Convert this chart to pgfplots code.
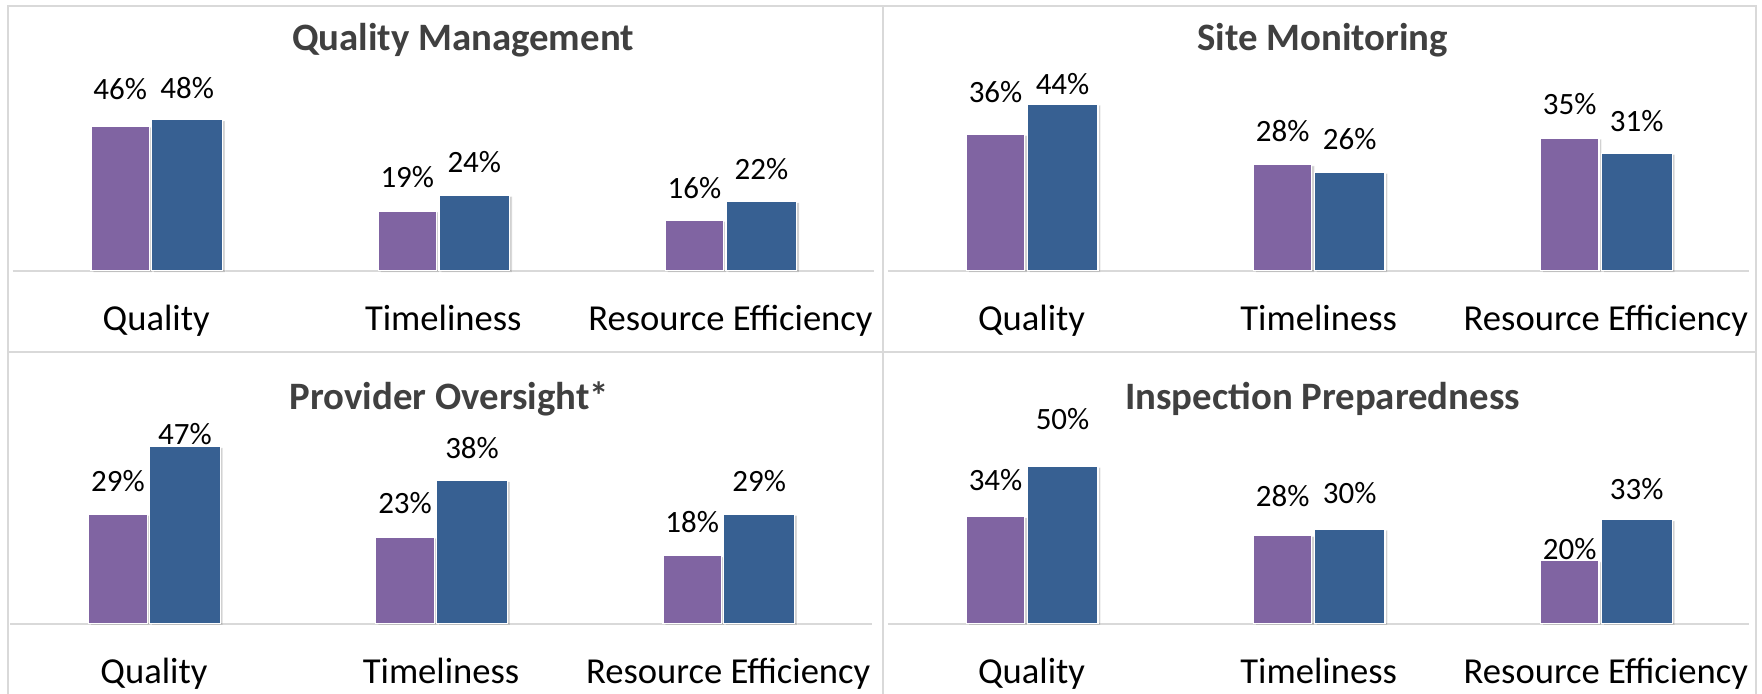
\documentclass[border=0pt]{standalone}
\usepackage{pgfplots}
\pgfplotsset{compat=1.18}
\usepackage{pgfplotstable}
\usetikzlibrary{shadows}
\usepackage{fontspec}
\setmainfont{Carlito}

\definecolor{barpurple}{HTML}{8064A2}
\definecolor{barblue}{HTML}{376092}
\definecolor{titlegrey}{HTML}{404040}
\definecolor{framegrey}{HTML}{D9D9D9}

% p = purple series, b = blue series; pdy/bdy = label offset above bar top (px)
\pgfplotstableread{
x p pdy b bdy
0 46 33 48 28
1 19 30 24 30
2 16 29 22 29
}\qualitymgmt
\pgfplotstableread{
x p pdy b bdy
0 36 38 44 18
1 28 30 26 30
2 35 30 31 29
}\sitemon
\pgfplotstableread{
x p pdy b bdy
0 29 30 47 11
1 23 30 38 29
2 18 30 29 30
}\provider
\pgfplotstableread{
x p pdy b bdy
0 34 33 50 42
1 28 35 30 32
2 20 10 33 27
}\inspection

\pgfplotsset{
  panel/.style={
    x=143.57pt, scale only axis, anchor=south west,
    xmin=-0.5, xmax=2.5, ymin=0, ymax=55,
    axis x line*=bottom, hide y axis,
    x axis line style={-, framegrey, line width=1.1pt},
    xtick={0,1,2},
    xticklabels={Quality,Timeliness,Resource Efficiency},
    major tick length=0pt,
    xticklabel style={font=\fontsize{18.3}{20}\selectfont, anchor=base, yshift=-29.7pt},
    ybar, clip=false,
    nodes near coords={\pgfmathprintnumber{\pgfplotspointmeta}\%},
    /pgf/number format/assume math mode=true,
  },
  purplebars/.style={fill=barpurple, draw=white, line width=0.6pt,
    bar width=29.2pt, bar shift=-18pt,
    drop shadow={shadow xshift=1.2pt, shadow yshift=-0.6pt, opacity=0.18, fill=black}},
  bluebars/.style={fill=barblue, draw=white, line width=0.6pt,
    bar width=35.4pt, bar shift=15.5pt,
    drop shadow={shadow xshift=1.2pt, shadow yshift=-0.6pt, opacity=0.18, fill=black}},
  lbl/.style={every node near coord/.append style={
    font=\fontsize{15.5}{17}\selectfont, text=black, anchor=center,
    inner sep=0pt, yshift=\dy*0.5619pt}},
}

\newcommand{\panelpair}[1]{%
  \addplot[purplebars, lbl, visualization depends on={\thisrow{pdy} \as \dy}]
    table[x=x, y=p] {#1};
  \addplot[bluebars, lbl, visualization depends on={\thisrow{bdy} \as \dy}]
    table[x=x, y=b] {#1};
}

\begin{document}
\begin{tikzpicture}
  \useasboundingbox (0pt,0pt) rectangle (881.1pt,-347pt);

  % panel frames
  \draw[framegrey, line width=1pt] (3.93pt,-400pt) -- (3.93pt,-2.81pt)
    -- (878.25pt,-2.81pt) -- (878.25pt,-400pt);
  \draw[framegrey, line width=1pt] (441.65pt,-2.81pt) -- (441.65pt,-400pt);
  \draw[framegrey, line width=1pt] (3.93pt,-175.87pt) -- (878.25pt,-175.87pt);

  \begin{axis}[panel, at={(6.32pt,-135.42pt)}, y=1.573pt]
    \panelpair{\qualitymgmt}
  \end{axis}
  \begin{axis}[panel, at={(444.04pt,-135.42pt)}, y=1.894pt]
    \panelpair{\sitemon}
  \end{axis}
  \begin{axis}[panel, at={(5.20pt,-311.85pt)}, y=1.882pt]
    \panelpair{\provider}
  \end{axis}
  \begin{axis}[panel, at={(444.04pt,-311.85pt)}, y=1.573pt]
    \panelpair{\inspection}
  \end{axis}

  % titles
  \begin{scope}[every node/.style={font=\fontsize{19.4}{22}\selectfont\bfseries, text=titlegrey}]
    \node at (231.5pt,-20.2pt) {Quality Management};
    \node at (661.4pt,-20.2pt) {Site Monitoring};
    \node at (224.8pt,-199.5pt) {Provider Oversight*};
    \node at (661.4pt,-199.5pt) {Inspection Preparedness};
  \end{scope}
\end{tikzpicture}
\end{document}
